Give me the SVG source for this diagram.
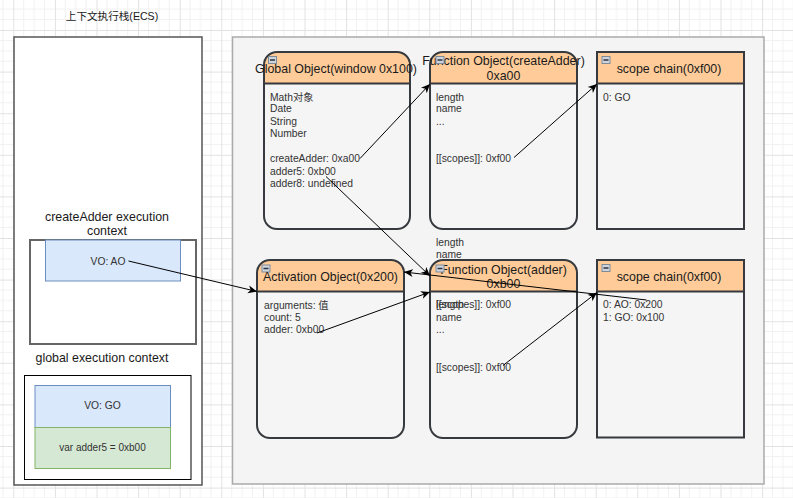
<svg xmlns="http://www.w3.org/2000/svg" width="793" height="498" viewBox="0 0 793 498">
<style>
text{font-family:"Liberation Sans",Arial,"Noto Sans CJK SC",sans-serif;}
.t12{font-size:12.4px;fill:#1a1a1a;}
.t11{font-size:10.6px;fill:#1a1a1a;}
.b{font-size:10.3px;fill:#333;}
.mid{text-anchor:middle;}
.hdr{fill:#ffcc99;}
.body{fill:#f5f5f5;}
.ol{fill:none;stroke:#36393d;stroke-width:2;}
.sep{stroke:#36393d;stroke-width:2;}
.ico{fill:#cfd4dc;stroke:#7f8a99;stroke-width:1;}
.icoline{stroke:#2b3442;stroke-width:1.5;}
.edge{fill:none;stroke:#000;stroke-width:1;}
</style>
<defs>
<pattern id="grid" width="41.6" height="41.6" patternUnits="userSpaceOnUse" x="13.3" y="30">
<path d="M10.4 0V41.6M20.8 0V41.6M31.2 0V41.6M0 10.4H41.6M0 20.8H41.6M0 31.2H41.6" stroke="#f1f1f1" stroke-width="1" fill="none"/>
<path d="M0.5 0V41.6M0 0.5H41.6" stroke="#e2e2e2" stroke-width="1" fill="none"/>
</pattern>
<marker id="arr" markerWidth="10" markerHeight="10" refX="9" refY="5" orient="auto" markerUnits="userSpaceOnUse">
<path d="M0,1 L9,5 L0,9 L2.5,5 Z" fill="#000"/>
</marker>
</defs>
<rect x="0" y="0" width="793" height="498" fill="#fff"/>
<rect x="0" y="0" width="793" height="498" fill="url(#grid)"/>

<g id="ecs">
<text class="t11 mid" x="112" y="20">上下文执行栈(ECS)</text>
<rect x="14" y="37" width="188" height="448" fill="#fff" stroke="#555" stroke-width="1.5"/>
</g>

<g id="heap-area">
<rect x="232.5" y="37" width="531.5" height="447" fill="#f4f4f4" stroke="#aaa" stroke-width="1.5"/>
</g>

<g id="createAdder-ec">
<text class="t12 mid" x="107" y="221">createAdder execution</text>
<text class="t12 mid" x="107" y="235">context</text>
<rect x="30" y="240" width="166" height="104" fill="#fff" stroke="#666" stroke-width="2"/>
<rect x="45.5" y="240" width="135" height="41" fill="#dae8fc" stroke="#6c8ebf" stroke-width="1"/>
<text class="b mid" x="108" y="264.5">VO: AO</text>
</g>

<g id="global-ec">
<text class="t12 mid" x="102" y="362">global execution context</text>
<rect x="24.5" y="375.5" width="166.5" height="104" fill="#fff" stroke="#000" stroke-width="1"/>
<rect x="35" y="385.5" width="135.5" height="42" fill="#dae8fc" stroke="#6c8ebf" stroke-width="1"/>
<text class="b mid" x="102.5" y="408.5">VO: GO</text>
<rect x="35" y="427.5" width="135.5" height="41" fill="#d5e8d4" stroke="#82b366" stroke-width="1"/>
<text class="b mid" x="102.5" y="451" style="font-size:10px">var adder5 = 0xb00</text>
</g>

<g id="global-object">
<path class="hdr" d="M264,83.5V65A13,13 0 0 1 277,52H397A13,13 0 0 1 410,65V83.5Z"/>
<path class="body" d="M264,83.5H410V216A13,13 0 0 1 397,229H277A13,13 0 0 1 264,216Z"/>
<rect class="ol" x="264" y="52" width="146" height="177" rx="13"/>
<line class="sep" x1="264" y1="83.5" x2="410" y2="83.5"/>
<rect class="ico" x="268.5" y="56.5" width="8" height="7"/><line class="icoline" x1="270" y1="60" x2="275" y2="60"/>
<text class="t12 mid" x="336" y="73">Global Object(window 0x100)</text>
<text class="b" x="270" y="100.5">Math对象</text>
<text class="b" x="270" y="112">Date</text>
<text class="b" x="270" y="125">String</text>
<text class="b" x="270" y="137">Number</text>
<text class="b" x="270" y="162">createAdder: 0xa00</text>
<text class="b" x="270" y="175">adder5: 0xb00</text>
<text class="b" x="270" y="187">adder8: undefined</text>
</g>

<g id="function-createAdder">
<path class="hdr" d="M430,83.5V65A13,13 0 0 1 443,52H564A13,13 0 0 1 577,65V83.5Z"/>
<path class="body" d="M430,83.5H577V216A13,13 0 0 1 564,229H443A13,13 0 0 1 430,216Z"/>
<rect class="ol" x="430" y="52" width="147" height="177" rx="13"/>
<line class="sep" x1="430" y1="83.5" x2="577" y2="83.5"/>
<text class="t12 mid" x="503.5" y="65">Function Object(createAdder)</text>
<text class="t12 mid" x="503.5" y="80">0xa00</text>
<rect class="ico" x="436" y="56.5" width="8" height="7"/><line class="icoline" x1="437.5" y1="60" x2="442.5" y2="60"/>
<text class="b" x="436" y="100.5">length</text>
<text class="b" x="436" y="112">name</text>
<text class="b" x="436" y="125">...</text>
<text class="b" x="436" y="162">[[scopes]]: 0xf00</text>
</g>

<g id="scope-chain-1">
<rect class="hdr" x="597" y="52" width="147" height="31.5"/>
<rect class="body" x="597" y="83.5" width="147" height="145.5"/>
<rect class="ol" x="597" y="52" width="147" height="177"/>
<line class="sep" x1="597" y1="83.5" x2="744" y2="83.5"/>
<rect class="ico" x="602" y="56.5" width="8" height="7"/><line class="icoline" x1="603.5" y1="60" x2="608.5" y2="60"/>
<text class="t12 mid" x="669" y="73">scope chain(0xf00)</text>
<text class="b" x="603" y="100.5">0: GO</text>
</g>

<g id="activation-object">
<path class="hdr" d="M257,291.5V273A13,13 0 0 1 270,260H391A13,13 0 0 1 404,273V291.5Z"/>
<path class="body" d="M257,291.5H404V425A13,13 0 0 1 391,438H270A13,13 0 0 1 257,425Z"/>
<rect class="ol" x="257" y="260" width="147" height="178" rx="13"/>
<line class="sep" x1="257" y1="291.5" x2="404" y2="291.5"/>
<rect class="ico" x="262" y="265" width="8" height="7"/><line class="icoline" x1="263.5" y1="268.5" x2="268.5" y2="268.5"/>
<text class="t12 mid" x="330.5" y="281">Activation Object(0x200)</text>
<text class="b" x="264" y="308.5">arguments: 值</text>
<text class="b" x="264" y="320.5">count: 5</text>
<text class="b" x="264" y="333">adder: 0xb00</text>
</g>

<g id="function-adder">
<text class="b" x="436" y="245.5">length</text>
<text class="b" x="436" y="258">name</text>
<path class="hdr" d="M430,291.5V273A13,13 0 0 1 443,260H564A13,13 0 0 1 577,273V291.5Z"/>
<path class="body" d="M430,291.5H577V425A13,13 0 0 1 564,438H443A13,13 0 0 1 430,425Z"/>
<rect class="ol" x="430" y="260" width="147" height="178" rx="13"/>
<line class="sep" x1="430" y1="291.5" x2="577" y2="291.5"/>
<text class="t12 mid" x="503.5" y="274">Function Object(adder)</text>
<text class="t12 mid" x="503.5" y="287.5">0xb00</text>
<rect class="ico" x="436" y="265" width="8" height="7"/><line class="icoline" x1="437.5" y1="268.5" x2="442.5" y2="268.5"/>
<text class="b" x="436" y="308">length</text>
<text class="b" x="436" y="308">[[scopes]]: 0xf00</text>
<text class="b" x="436" y="321">name</text>
<text class="b" x="436" y="333">...</text>
<text class="b" x="436" y="370.5">[[scopes]]: 0xf00</text>
</g>

<g id="scope-chain-2">
<rect class="hdr" x="597" y="260" width="147" height="31.5"/>
<rect class="body" x="597" y="291.5" width="147" height="146"/>
<rect class="ol" x="597" y="260" width="147" height="177.5"/>
<line class="sep" x1="597" y1="291.5" x2="744" y2="291.5"/>
<rect class="ico" x="602" y="264.5" width="8" height="7"/><line class="icoline" x1="603.5" y1="268" x2="608.5" y2="268"/>
<text class="t12 mid" x="669" y="281">scope chain(0xf00)</text>
<text class="b" x="603" y="308">0: AO: 0x200</text>
<text class="b" x="603" y="320.5">1: GO: 0x100</text>
</g>

<g id="connectors">
<path class="edge" d="M360,158.5L430,84" marker-end="url(#arr)"/>
<path class="edge" d="M514,157.5L597,84" marker-end="url(#arr)"/>
<path class="edge" d="M326,176.5L430,276" marker-end="url(#arr)"/>
<path class="edge" d="M128.5,261L257,291.5" marker-end="url(#arr)"/>
<path class="edge" d="M317,333L430,292" marker-end="url(#arr)"/>
<path class="edge" d="M503,365.5L597,292.5" marker-end="url(#arr)"/>
<path class="edge" d="M646.5,300L404,272" marker-end="url(#arr)"/>
</g>
</svg>
